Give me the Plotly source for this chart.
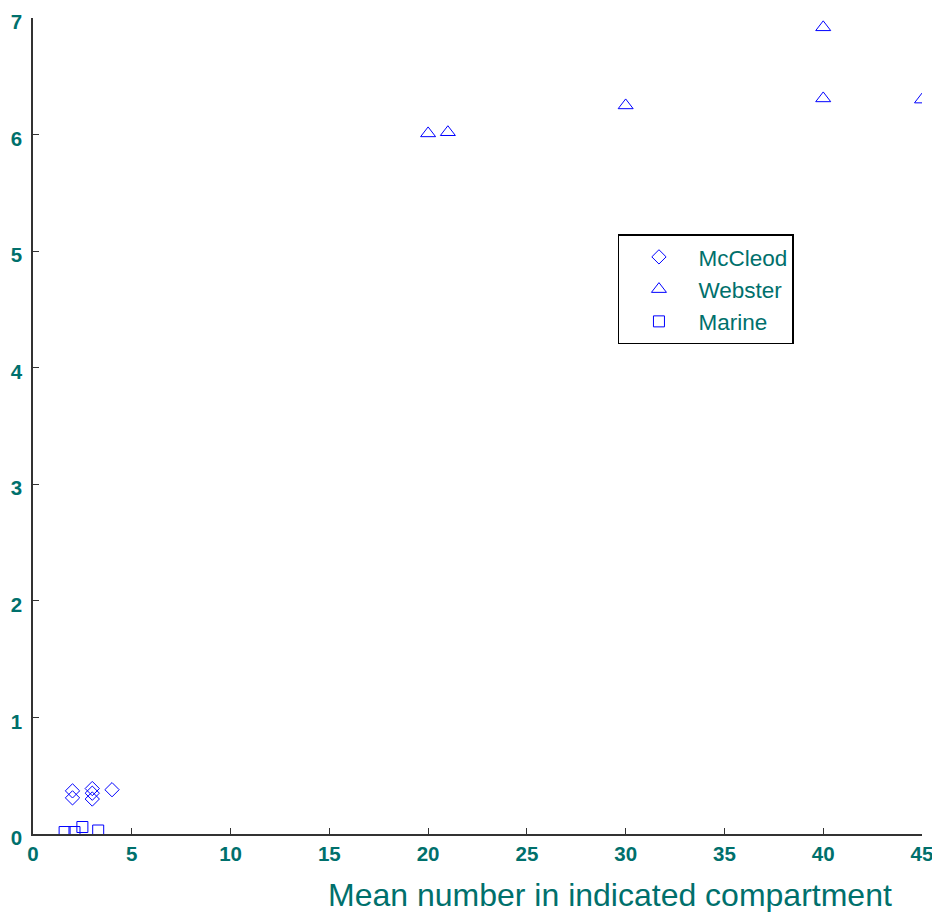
import plotly.graph_objects as go

# McCleod (diamonds)
mccleod_x = [2, 2, 3, 3, 3, 4]
mccleod_y = [0.37, 0.31, 0.39, 0.35, 0.30, 0.38]
# Webster (triangles)
webster_x = [20, 21, 30, 40, 40, 45]
webster_y = [6.01, 6.02, 6.25, 6.92, 6.31, 6.30]
# Marine (squares)
marine_x = [1.6, 2.1, 2.5, 3.3]
marine_y = [0.017, 0.017, 0.06, 0.03]

x_ticks = [0, 5, 10, 15, 20, 25, 30, 35, 40, 45]
y_ticks = [0, 1, 2, 3, 4, 5, 6, 7]

TEAL = "#00706C"
BLUE = "#0000FF"
FONT = "Liberation Sans, Arial, Helvetica"

fig = go.Figure()
fig.add_trace(go.Scatter(x=mccleod_x, y=mccleod_y, mode="markers", name="McCleod",
                         marker=dict(symbol="diamond-open", size=11, color=BLUE, line=dict(width=1))))
fig.add_trace(go.Scatter(x=webster_x, y=webster_y, mode="markers", name="Webster",
                         marker=dict(symbol="triangle-up-open", size=13, color=BLUE, line=dict(width=1))))
fig.add_trace(go.Scatter(x=marine_x, y=marine_y, mode="markers", name="Marine",
                         marker=dict(symbol="square-open", size=11, color=BLUE, line=dict(width=1))))

axis_common = dict(showgrid=False, zeroline=False, showline=True, linecolor="#333333", linewidth=1.5,
                   ticks="inside", ticklen=6, tickcolor="#333333", ticklabeloverflow="allow",
                   automargin=False,
                   tickfont=dict(family=FONT, size=20.5, color=TEAL, weight="bold"))

fig.update_xaxes(range=[0, 45], tickvals=x_ticks, ticklabelstandoff=1, **axis_common)
fig.update_yaxes(range=[0, 7], tickvals=y_ticks, ticklabelstandoff=5, ticklabelshift=4,
                 **axis_common)

fig.add_annotation(text="Mean number in indicated compartment", xref="paper", yref="paper",
                   x=0.649, y=-0.075, xanchor="center", yanchor="middle", showarrow=False,
                   font=dict(family=FONT, size=32, color=TEAL))

fig.update_layout(
    width=924, height=904,
    margin=dict(l=25, r=10, t=10, b=78),
    paper_bgcolor="white", plot_bgcolor="white",
    showlegend=True,
    legend=dict(x=0.658, y=0.735, xanchor="left", yanchor="top",
                bordercolor="black", borderwidth=1.5, bgcolor="white",
                itemwidth=69,
                font=dict(family=FONT, size=22.5, color=TEAL)),
)

fig.write_html("out.html")
